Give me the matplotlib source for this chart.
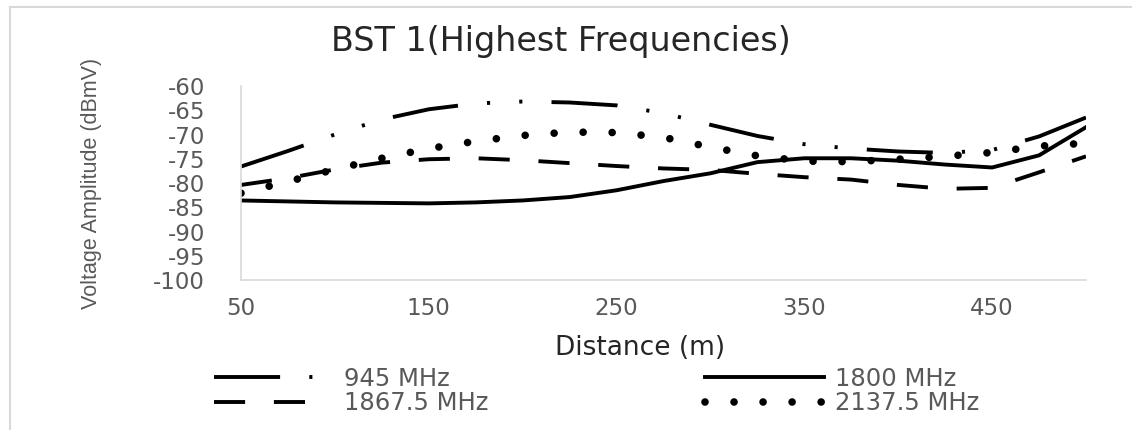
import numpy as np
import matplotlib
matplotlib.use("Agg")
import matplotlib.pyplot as plt
from matplotlib.lines import Line2D

plt.rcParams["axes.unicode_minus"] = False

# data (distance in m, amplitude in dBmV)
distance = [50, 75, 100, 125, 150, 175, 200, 225, 250, 275, 300,
            325, 350, 375, 400, 425, 450, 475, 500]
f945 = [-76.6, -73.4, -70.0, -66.9, -64.8, -63.6, -63.2, -63.4, -64.0, -65.6,
        -68.0, -70.3, -72.0, -72.9, -73.5, -73.8, -73.2, -70.4, -66.5]
f1800 = [-83.6, -83.8, -84.0, -84.1, -84.2, -84.0, -83.6, -82.9, -81.5, -79.6,
         -78.0, -75.7, -74.9, -74.9, -75.4, -76.2, -76.8, -74.3, -68.5]
f1867 = [-80.4, -79.0, -77.2, -75.8, -75.1, -74.9, -75.3, -75.9, -76.5, -77.0,
         -77.3, -78.1, -78.8, -79.3, -80.4, -81.2, -81.0, -77.8, -74.5]
f2137 = [-82.1, -79.7, -77.2, -74.9, -72.9, -71.4, -70.2, -69.5, -69.6, -70.6,
         -72.6, -74.4, -75.5, -75.6, -75.1, -74.5, -73.7, -72.4, -71.8]
labels = ["945 MHz", "1800 MHz", "1867.5 MHz", "2137.5 MHz"]
xticks = [50, 150, 250, 350, 450]
yticks = [-60, -65, -70, -75, -80, -85, -90, -95, -100]

W, H = 1132, 430
fig = plt.figure(figsize=(W / 100, H / 100), dpi=100)

def fx(px):
    return px / W

def fy(py):
    return 1 - py / H

ax = fig.add_axes([fx(241), fy(280), fx(1086) - fx(241), fy(86) - fy(280)])

grey = "#595959"
lw = 2.8
l945, = ax.plot(distance, f945, color="black", lw=lw,
                linestyle=(0, (17, 7.5, 0.8, 7.5, 0.8, 7.5)))
l1800, = ax.plot(distance, f1800, color="black", lw=lw, linestyle="-")
l1867, = ax.plot(distance, f1867, color="black", lw=lw,
                 linestyle=(0, (8, 7.4)))
l2137, = ax.plot(distance, f2137, color="black", lw=5.5,
                 linestyle=(0, (0.001, 3.8)), dash_capstyle="round")

ax.set_xlim(50, 500)
ax.set_ylim(-100, -60)
ax.set_xticks(xticks)
ax.set_yticks(yticks)
ax.tick_params(length=0, labelsize=16.5, labelcolor=grey)
ax.tick_params(axis="y", pad=26)
ax.tick_params(axis="x", pad=12)
for s in ["top", "right"]:
    ax.spines[s].set_visible(False)
for s in ["left", "bottom"]:
    ax.spines[s].set_color("#d9d9d9")
    ax.spines[s].set_linewidth(1.2)

fig.text(fx(561), fy(42), "BST 1(Highest Frequencies)", ha="center", va="center",
         fontsize=24, color="#262626")
fig.text(fx(640), fy(348), "Distance (m)", ha="center", va="center",
         fontsize=19, color="#262626")
fig.text(fx(91), fy(183), "Voltage Amplitude (dBmV)", rotation=90,
         ha="center", va="center", fontsize=15.5, color=grey,
         family=["Liberation Sans", "DejaVu Sans"])

leg_kw = dict(loc="center left", frameon=False, borderpad=0, borderaxespad=0,
              handlelength=4.9, handletextpad=0.45, labelspacing=0.02,
              fontsize=17.5, labelcolor=grey)
fig.legend([l945, l1867], [labels[0], labels[2]],
           bbox_to_anchor=(fx(214), fy(391)), **leg_kw)
fig.legend([l1800, l2137], [labels[1], labels[3]],
           bbox_to_anchor=(fx(705), fy(391)), **leg_kw)

# chart area border (only left and top edges show in the crop)
fig.add_artist(Line2D([fx(10), fx(10)], [fy(7), 0], color="#d9d9d9", lw=1.5))
fig.add_artist(Line2D([fx(10), 1], [fy(7), fy(7)], color="#d9d9d9", lw=1.5))

fig.savefig("out.png", dpi=100)
